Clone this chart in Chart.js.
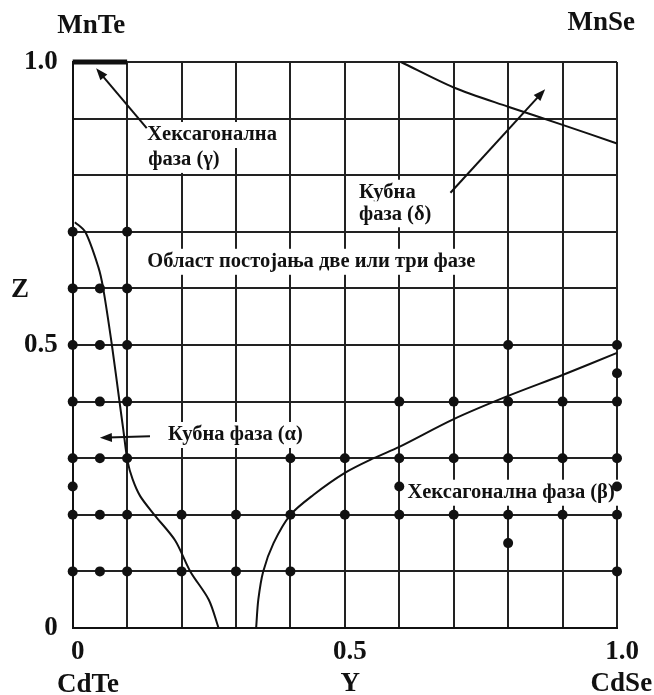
<!DOCTYPE html>
<html>
<head>
<meta charset="utf-8">
<script src="https://cdn.jsdelivr.net/npm/chart.js"></script>
</head>
<body style="margin:0;padding:0;background:#fff;">
<canvas id="phaseChart" width="654" height="695"></canvas>
<script>
// Y = CdSe fraction, Z = Mn fraction
// measured compositions (dots), one row per Z level
const rowZ = [0.7, 0.6, 0.5, 0.45, 0.4, 0.3, 0.25, 0.2, 0.15, 0.1];
const rowY = [
  [0, 0.1],
  [0, 0.05, 0.1],
  [0, 0.05, 0.1, 0.8, 1.0],
  [1.0],
  [0, 0.05, 0.1, 0.6, 0.7, 0.8, 0.9, 1.0],
  [0, 0.05, 0.1, 0.4, 0.5, 0.6, 0.7, 0.8, 0.9, 1.0],
  [0, 0.6, 1.0],
  [0, 0.05, 0.1, 0.2, 0.3, 0.4, 0.5, 0.6, 0.7, 0.8, 0.9, 1.0],
  [0.8],
  [0, 0.05, 0.1, 0.2, 0.3, 0.4, 1.0]
];

// phase boundaries
const alphaY = [0.004, 0.023, 0.047, 0.056, 0.072, 0.086, 0.093, 0.101, 0.11, 0.124, 0.15, 0.188, 0.216, 0.25, 0.268];
const alphaZ = [0.717, 0.7, 0.638, 0.6, 0.5, 0.4, 0.35, 0.294, 0.263, 0.233, 0.2, 0.155, 0.1, 0.05, 0];
const betaY = [0.337, 0.341, 0.35, 0.369, 0.4, 0.442, 0.5, 0.553, 0.6, 0.7, 0.8, 0.9, 1.0];
const betaZ = [0, 0.05, 0.1, 0.15, 0.2, 0.235, 0.274, 0.3, 0.32, 0.369, 0.41, 0.447, 0.486];
const deltaY = [0.603, 0.7, 0.8, 0.9, 1.0];
const deltaZ = [1.0, 0.955, 0.921, 0.889, 0.856];
const gammaY = [0, 0.1];
const gammaZ = [1.0, 1.0];

// texts
const cornerLabels = [
  ['MnTe', 0.034, 1.064], ['MnSe', 0.971, 1.069],
  ['CdTe', 0.028, -0.101], ['CdSe', 1.008, -0.099],
  ['Y', 0.51, -0.099], ['Z', -0.097, 0.597]
];
const phaseLabels = [
  ['Хексагонална', 0.137, 0.871], ['фаза (γ)', 0.139, 0.827],
  ['Кубна', 0.526, 0.769], ['фаза (δ)', 0.526, 0.731],
  ['Област постојања две или три фазе', 0.137, 0.647],
  ['Кубна фаза (α)', 0.175, 0.341],
  ['Хексагонална фаза (β)', 0.615, 0.239]
];
// arrows: [tailY, tailZ, headY, headZ]
const arrows = [
  [0.136, 0.883, 0.043, 0.989],
  [0.694, 0.769, 0.868, 0.952],
  [0.142, 0.339, 0.05, 0.336]
];

const ink = '#111';
const serif = '"Liberation Serif", "Times New Roman", serif';

function pairs(xs, ys) {
  return xs.map((x, i) => ({x: x, y: ys[i]}));
}
const dots = [];
rowZ.forEach((z, i) => rowY[i].forEach(y => dots.push({x: y, y: z})));

const lineStyle = {
  showLine: true, borderColor: ink, borderWidth: 2, pointRadius: 0,
  tension: 0.3, clip: false
};

const textPlugin = {
  id: 'phaseText',
  beforeDatasetsDraw(chart) {
    const ctx = chart.ctx, sx = chart.scales.x, sy = chart.scales.y;
    ctx.save();
    ctx.font = 'bold 20.5px ' + serif;
    ctx.textAlign = 'left';
    ctx.textBaseline = 'middle';
    phaseLabels.forEach(([t, y, z]) => {
      const px = sx.getPixelForValue(y), py = sy.getPixelForValue(z);
      const w = ctx.measureText(t).width;
      ctx.fillStyle = '#fff';
      ctx.fillRect(px - 5, py - 13, w + 10, 26);
      ctx.fillStyle = ink;
      ctx.fillText(t, px, py);
    });
    ctx.restore();
  },
  afterDatasetsDraw(chart) {
    const ctx = chart.ctx, sx = chart.scales.x, sy = chart.scales.y;
    ctx.save();
    ctx.font = 'bold 27px ' + serif;
    ctx.textAlign = 'center';
    ctx.textBaseline = 'middle';
    ctx.fillStyle = ink;
    cornerLabels.forEach(([t, y, z]) => {
      ctx.fillText(t, sx.getPixelForValue(y), sy.getPixelForValue(z));
    });
    ctx.strokeStyle = ink;
    ctx.lineWidth = 2;
    arrows.forEach(([y0, z0, y1, z1]) => {
      const x0 = sx.getPixelForValue(y0), p0 = sy.getPixelForValue(z0);
      const x1 = sx.getPixelForValue(y1), p1 = sy.getPixelForValue(z1);
      const a = Math.atan2(p1 - p0, x1 - x0);
      ctx.beginPath();
      ctx.moveTo(x0, p0);
      ctx.lineTo(x1 - 8 * Math.cos(a), p1 - 8 * Math.sin(a));
      ctx.stroke();
      ctx.beginPath();
      ctx.moveTo(x1, p1);
      ctx.lineTo(x1 - 12 * Math.cos(a) + 4.5 * Math.sin(a), p1 - 12 * Math.sin(a) - 4.5 * Math.cos(a));
      ctx.lineTo(x1 - 12 * Math.cos(a) - 4.5 * Math.sin(a), p1 - 12 * Math.sin(a) + 4.5 * Math.cos(a));
      ctx.closePath();
      ctx.fill();
    });
    ctx.restore();
  }
};

function tickText(v) {
  if (Math.abs(v) < 1e-6) return '0';
  if (Math.abs(v - 0.5) < 1e-6) return '0.5';
  if (Math.abs(v - 1) < 1e-6) return '1.0';
  return '';
}

new Chart(document.getElementById('phaseChart'), {
  type: 'scatter',
  data: {
    datasets: [
      Object.assign({data: pairs(alphaY, alphaZ)}, lineStyle),
      Object.assign({data: pairs(betaY, betaZ)}, lineStyle),
      Object.assign({data: pairs(deltaY, deltaZ)}, lineStyle),
      Object.assign({data: pairs(gammaY, gammaZ)}, lineStyle, {borderWidth: 5}),
      {data: dots, pointRadius: 5, pointBackgroundColor: ink, pointBorderColor: ink, pointBorderWidth: 0, clip: false}
    ]
  },
  options: {
    responsive: false,
    animation: false,
    layout: {padding: {left: 0, right: 37, top: 62, bottom: 0}},
    plugins: {legend: {display: false}, tooltip: {enabled: false}},
    scales: {
      x: {
        min: 0, max: 1,
        afterFit(s) { s.height = 67; },
        border: {color: ink, width: 2},
        grid: {color: '#222', lineWidth: 2, drawTicks: false},
        ticks: {stepSize: 0.1, autoSkip: false, maxRotation: 0, padding: 8, labelOffset: 5,
                color: ink, font: {family: serif, size: 27, weight: 'bold'}, callback: tickText}
      },
      y: {
        min: 0, max: 1,
        afterFit(s) { s.width = 72.7; },
        border: {color: ink, width: 2},
        grid: {color: '#222', lineWidth: 2, drawTicks: false},
        ticks: {stepSize: 0.1, autoSkip: false, padding: 15,
                color: ink, font: {family: serif, size: 27, weight: 'bold'}, callback: tickText}
      }
    }
  },
  plugins: [textPlugin]
});
</script>
</body>
</html>
